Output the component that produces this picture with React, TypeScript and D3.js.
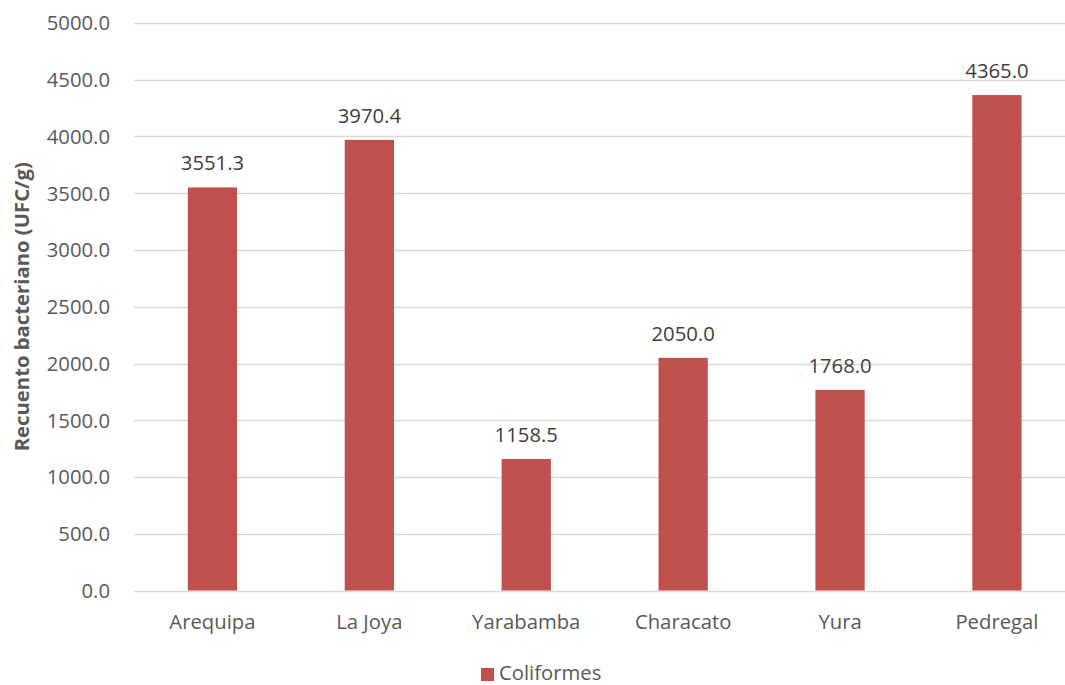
import React from "react";
import * as d3 from "d3";

const categories = ["Arequipa", "La Joya", "Yarabamba", "Characato", "Yura", "Pedregal"];
const values = [3551.3, 3970.4, 1158.5, 2050.0, 1768.0, 4365.0];
const yTicks = [0, 500, 1000, 1500, 2000, 2500, 3000, 3500, 4000, 4500, 5000];
const seriesName = "Coliformes";
const yTitle = "Recuento bacteriano (UFC/g)";

const W = 1065;
const H = 685;
const FONT = "'Open Sans', sans-serif";
const TXT = "#595959";
const FS = 20.3;

export default function App() {
  const x = d3.scaleBand<string>().domain(categories).range([134, 1075.4]).paddingInner(0.686).paddingOuter(0.343);
  const y = d3.scaleLinear().domain([0, 5000]).range([590.5, 23]);
  const bw = x.bandwidth();
  return (
    <svg width={W} height={H} style={{ position: "absolute", left: 0, top: 0, background: "#fff" }} fontFamily={FONT}>
      {yTicks.map((t) => (
        <g key={t}>
          <line x1={134} x2={W} y1={Math.round(y(t)) + 0.5} y2={Math.round(y(t)) + 0.5} stroke="#D9D9D9" strokeWidth={1.3} />
          <text x={110} y={y(t)} dy="0.36em" textAnchor="end" fontSize={FS} fill={TXT}>
            {t.toFixed(1)}
          </text>
        </g>
      ))}
      {categories.map((c, i) => (
        <g key={c}>
          <rect x={x(c)} y={y(values[i])} width={bw} height={y(0) - y(values[i])} fill="#C0504D" />
          <text x={(x(c) as number) + bw / 2} y={y(values[i]) - 17} textAnchor="middle" fontSize={FS} fill="#404040">
            {values[i].toFixed(1)}
          </text>
          <text x={(x(c) as number) + bw / 2} y={629} textAnchor="middle" fontSize={FS} fill={TXT}>
            {c}
          </text>
        </g>
      ))}
      <text transform={`translate(29,${(y(0) + y(5000)) / 2 + 0}) rotate(-90)`} textAnchor="middle" fontSize={FS} fontWeight="bold" fill={TXT}>
        {yTitle}
      </text>
      <rect x={481} y={668} width={13} height={13} fill="#C0504D" />
      <text x={499} y={680} fontSize={FS} fill={TXT}>
        {seriesName}
      </text>
    </svg>
  );
}
